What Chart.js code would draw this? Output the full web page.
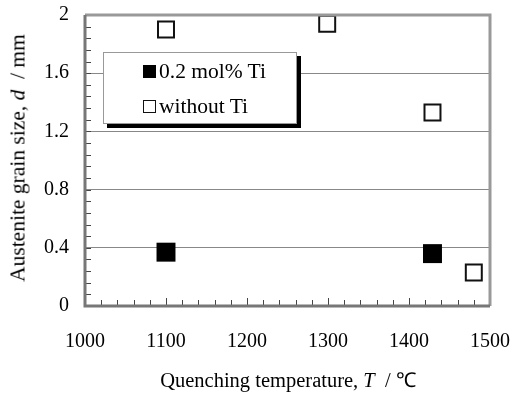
<!DOCTYPE html>
<html lang="en">
<head>
<meta charset="UTF-8">
<title>Austenite grain size</title>
<script src="https://cdn.jsdelivr.net/npm/chart.js"></script>
<style>
    html, body { margin: 0; padding: 0; background: #fff; }
    #wrap { position: relative; width: 514px; height: 394px; font-family: "Liberation Serif", "Times New Roman", serif; }
    canvas { position: absolute; left: 0; top: 0; }
    .ytitle {
        position: absolute; left: 18px; top: 158px; font-size: 21.5px; white-space: nowrap;
        transform: translate(-50%, -50%) rotate(-90deg);
    }
    .xtitle {
        position: absolute; left: 288px; top: 379px; font-size: 20.5px; white-space: nowrap;
        transform: translate(-50%, -50%);
    }
    #legend {
        position: absolute; left: 103px; top: 52px; width: 194px; height: 72px;
        background: #fff; border: 1px solid #999; box-shadow: 4px 4px 0 #000;
        font-size: 21.5px; box-sizing: border-box;
    }
    .item { position: absolute; left: 39px; display: flex; align-items: center; white-space: nowrap; }
    .mark { width: 13px; height: 13px; box-sizing: border-box; margin-right: 3px; }
</style>
</head>
<body>
<div id="wrap">
    <canvas id="chart" width="514" height="394"></canvas>
    <div class="ytitle">Austenite grain size, <i>d</i> &nbsp;/ mm</div>
    <div class="xtitle">Quenching temperature, <i>T</i> &nbsp;/ &#8451;</div>
    <div id="legend"></div>
</div>
<script>
    const withTiTemp = [1100, 1429];
    const withTiSize = [0.37, 0.36];
    const noTiTemp = [1100, 1299, 1429, 1480];
    const noTiSize = [1.90, 1.94, 1.33, 0.23];
    const seriesNames = ["0.2 mol% Ti", "without Ti"];

    function pts(xs, ys) {
        return xs.map((x, i) => ({ x: x, y: ys[i] }));
    }

    // inward minor ticks + frame around the plot
    const framePlugin = {
        id: "frame",
        afterDraw(chart) {
            const ctx = chart.ctx;
            const a = chart.chartArea;
            const xs = chart.scales.x, ys = chart.scales.y;
            ctx.save();
            ctx.strokeStyle = "#444";
            ctx.lineWidth = 1;
            ctx.beginPath();
            for (let v = 1000; v <= 1500; v += 20) {
                const px = Math.round(xs.getPixelForValue(v)) + 0.5;
                const len = (v % 100 === 0) ? 8 : 6;
                ctx.moveTo(px, a.bottom);
                ctx.lineTo(px, a.bottom - len);
            }
            for (let k = 0; k <= 25; k++) {
                const py = Math.round(ys.getPixelForValue(k * 0.08)) + 0.5;
                ctx.moveTo(a.left, py);
                ctx.lineTo(a.left + 6, py);
            }
            ctx.stroke();
            ctx.lineWidth = 3;
            ctx.strokeStyle = "#999";
            ctx.beginPath();
            ctx.moveTo(a.left, a.top);
            ctx.lineTo(a.right, a.top);
            ctx.lineTo(a.right, a.bottom);
            ctx.stroke();
            ctx.strokeStyle = "#777";
            ctx.beginPath();
            ctx.moveTo(a.left, a.top);
            ctx.lineTo(a.left, a.bottom);
            ctx.lineTo(a.right, a.bottom);
            ctx.stroke();
            ctx.restore();
        }
    };

    const chart = new Chart(document.getElementById("chart"), {
        type: "scatter",
        data: {
            datasets: [
                {
                    label: seriesNames[0],
                    data: pts(withTiTemp, withTiSize),
                    pointStyle: "rect",
                    pointRadius: 13.4,
                    backgroundColor: "#000",
                    borderColor: "#000",
                    borderWidth: 0
                },
                {
                    label: seriesNames[1],
                    data: pts(noTiTemp, noTiSize),
                    pointStyle: "rect",
                    pointRadius: 11.3,
                    backgroundColor: "#fff",
                    borderColor: "#111",
                    borderWidth: 2
                }
            ]
        },
        options: {
            responsive: false,
            animation: false,
            layout: { padding: { left: 0, top: 15, right: 24, bottom: 0 } },
            plugins: { legend: { display: false }, tooltip: { enabled: false } },
            scales: {
                x: {
                    type: "linear", min: 1000, max: 1500,
                    afterFit(s) { s.height = 88; s.paddingLeft = 0; s.paddingRight = 0; },
                    ticks: {
                        stepSize: 100, color: "#000", padding: 24,
                        font: { family: "Liberation Serif", size: 20 },
                        callback: v => String(v)
                    },
                    grid: { drawOnChartArea: false, drawTicks: false },
                    border: { display: false }
                },
                y: {
                    min: 0, max: 2,
                    afterFit(s) { s.width = 85; s.paddingTop = 0; s.paddingBottom = 0; },
                    ticks: {
                        stepSize: 0.4, color: "#000", padding: 16,
                        font: { family: "Liberation Serif", size: 20 },
                        callback: v => String(+v.toFixed(1))
                    },
                    grid: { color: "#888", lineWidth: 1, drawTicks: false },
                    border: { display: false }
                }
            }
        },
        plugins: [framePlugin]
    });

    // legend from the dataset labels
    const legend = document.getElementById("legend");
    chart.data.datasets.forEach((ds, i) => {
        const it = document.createElement("div");
        it.className = "item";
        it.style.top = (i === 0 ? 6 : 41) + "px";
        const m = document.createElement("span");
        m.className = "mark";
        m.style.background = ds.backgroundColor;
        m.style.border = "1.5px solid " + ds.borderColor;
        it.appendChild(m);
        it.appendChild(document.createTextNode(ds.label));
        legend.appendChild(it);
    });
</script>
</body>
</html>
